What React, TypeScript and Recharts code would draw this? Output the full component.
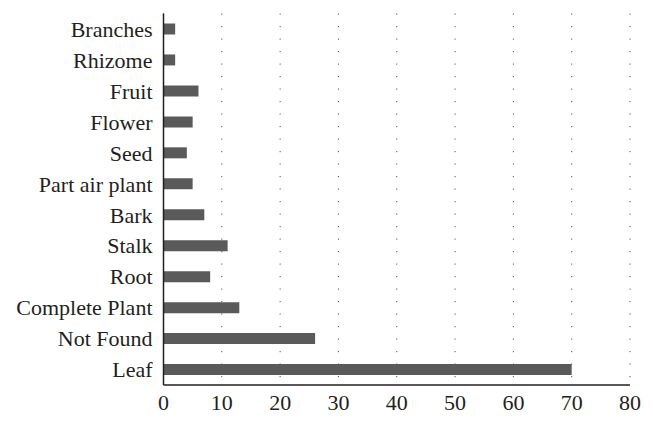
import { BarChart, Bar, XAxis, YAxis, CartesianGrid } from 'recharts';

const parts = [
  'Branches',
  'Rhizome',
  'Fruit',
  'Flower',
  'Seed',
  'Part air plant',
  'Bark',
  'Stalk',
  'Root',
  'Complete Plant',
  'Not Found',
  'Leaf',
];
const counts = [2, 2, 6, 5, 4, 5, 7, 11, 8, 13, 26, 70];
const xTicks = [0, 10, 20, 30, 40, 50, 60, 70, 80];

const INK = '#231f20';
const tickStyle = { fill: INK, fontFamily: '"Liberation Serif", serif', fontSize: 22 };

export default function App() {
  const data = parts.map((part, i) => ({ part, count: counts[i] }));

  return (
    <div style={{ position: 'absolute', left: 0, top: 0, background: '#fff' }}>
      <BarChart
        width={653}
        height={424}
        data={data}
        layout="vertical"
        margin={{ top: 13.5, right: 23, left: 0, bottom: 0 }}
      >
        <CartesianGrid horizontal={false} stroke="#555" strokeDasharray="1.2 11.3" />
        <XAxis
          type="number"
          domain={[0, 80]}
          ticks={xTicks}
          height={39}
          axisLine={{ stroke: INK, strokeWidth: 1.5 }}
          tickLine={false}
          tickSize={0}
          tickMargin={9}
          tick={tickStyle}
          interval={0}
        />
        <YAxis
          type="category"
          dataKey="part"
          width={163.5}
          axisLine={{ stroke: INK, strokeWidth: 1.5 }}
          tickLine={false}
          tickSize={0}
          tickMargin={11}
          tick={tickStyle}
          interval={0}
        />
        <Bar dataKey="count" fill="#5a5a5a" barSize={11} isAnimationActive={false} />
      </BarChart>
    </div>
  );
}
